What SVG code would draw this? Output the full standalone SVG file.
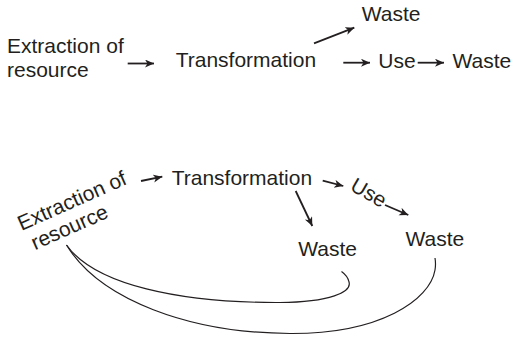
<svg xmlns="http://www.w3.org/2000/svg" width="513" height="339" viewBox="0 0 513 339">
<style>
text{font-family:"Liberation Sans",Arial,sans-serif;font-size:21px;fill:#231f20}
.a{stroke:#231f20;stroke-width:1.8;fill:none;marker-end:url(#ah)}
.c{stroke:#231f20;stroke-width:1.2;fill:none}
</style>
<defs>
<marker id="ah" markerUnits="userSpaceOnUse" markerWidth="12" markerHeight="10" refX="9" refY="4" orient="auto">
<path d="M0,0 L9,4 L0,8 L2.5,4 z" fill="#231f20"/>
</marker>
</defs>
<rect width="513" height="339" fill="#fff"/>
<g id="top">
<g id="t-extraction"><text x="7" y="52.5">Extraction of</text><text x="7" y="77">resource</text></g>
<g id="t-transformation"><text x="175.7" y="67">Transformation</text></g>
<g id="t-waste1"><text x="361.7" y="20.7">Waste</text></g>
<g id="t-use"><text x="378.3" y="67.5">Use</text></g>
<g id="t-waste2"><text x="452.5" y="67.5">Waste</text></g>
</g>
<g id="bottom">
<g id="b-extraction" transform="translate(21.5,231) rotate(-24)"><text x="0" y="0">Extraction of</text><text x="4.6" y="23">resource</text></g>
<g id="b-transformation"><text x="171.7" y="185">Transformation</text></g>
<g id="b-use"><text transform="translate(349,189.5) rotate(30)">Use</text></g>
<g id="b-waste1"><text x="298.3" y="255.5">Waste</text></g>
<g id="b-waste2"><text x="405.5" y="245.5">Waste</text></g>
</g>
<g id="connectors">
<line class="a" x1="127.7" y1="63.5" x2="154" y2="63.5"/>
<line class="a" x1="314" y1="43.3" x2="354.3" y2="27.7"/>
<line class="a" x1="343.3" y1="62.7" x2="370" y2="62.7"/>
<line class="a" x1="417.7" y1="62.7" x2="444" y2="62.7"/>
<line class="a" x1="141" y1="181" x2="162.3" y2="176.7"/>
<line class="a" x1="322.7" y1="180.7" x2="343.3" y2="186"/>
<line class="a" x1="385" y1="205" x2="408.3" y2="215"/>
<line class="a" x1="295.7" y1="191" x2="312.3" y2="226"/>
<path class="c" d="M66.5,245 C95,285 180,303 280,302.5 C330,302 352,292 349,282 C348,277 345,274 341.5,271.5"/>
<path class="c" d="M66.5,245 C100,300 190,333 290,333.5 C380,334 430,300 435,270 C436,264 435.5,261 435,258"/>
</g>
</svg>
